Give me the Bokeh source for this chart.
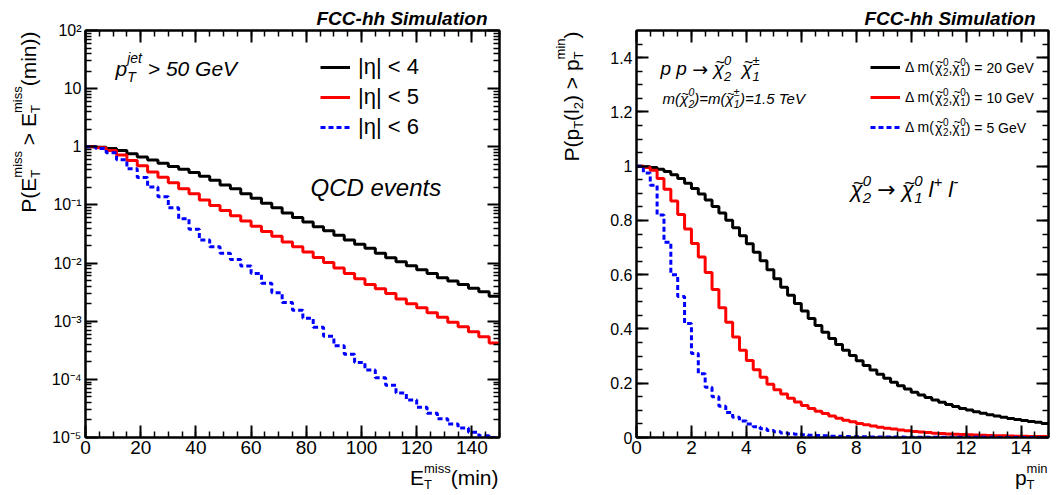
import math
import numpy as np
from bokeh.plotting import figure
from bokeh.layouts import row, column
from bokeh.models import (Label, FixedTicker, SingleIntervalTicker, CustomJSTickFormatter,
                          LinearAxis, LogAxis, Legend, LegendItem, Range1d)
from bokeh.embed import file_html
from bokeh.resources import INLINE

# ---------------- data: left panel (cumulative MET probability) ----------------
met_edges = list(np.linspace(0, 150, 41))
met_eta4 = [1.0, 0.98, 0.93, 0.86, 0.76, 0.67, 0.59, 0.52, 0.46, 0.41,
            0.36, 0.31, 0.265, 0.22, 0.19, 0.155, 0.13, 0.107, 0.089, 0.073,
            0.061, 0.051, 0.042, 0.036, 0.030, 0.025, 0.021, 0.018, 0.0148, 0.0123,
            0.0105, 0.0090, 0.0077, 0.0066, 0.0056, 0.0049, 0.0043, 0.0037, 0.0032, 0.0027]
met_eta5 = [1.0, 0.96, 0.86, 0.72, 0.58, 0.47, 0.37, 0.30, 0.24, 0.19,
            0.155, 0.122, 0.098, 0.080, 0.065, 0.053, 0.043, 0.035, 0.029, 0.023,
            0.019, 0.0155, 0.0125, 0.0102, 0.0082, 0.0066, 0.0054, 0.0043, 0.0036, 0.0030,
            0.0024, 0.0020, 0.0017, 0.0014, 0.00117, 0.00096, 0.0008, 0.00066, 0.00054, 0.00042]
met_eta6 = [1.0, 0.93, 0.79, 0.60, 0.42, 0.295, 0.204, 0.138, 0.089, 0.058,
            0.038, 0.025, 0.019, 0.0148, 0.0115, 0.0089, 0.0066, 0.0045, 0.0031, 0.0021,
            0.00155, 0.00112, 0.00079, 0.00055, 0.00038, 0.00027, 0.000195, 0.000145, 0.000107, 7.9e-5,
            5.8e-5, 4.4e-5, 3.3e-5, 2.6e-5, 2.1e-5, 1.7e-5, 1.45e-5, 1.23e-5, 1.07e-5, 1.0e-5]
met_labels = ["|η| < 4", "|η| < 5", "|η| < 6"]

# ---------------- data: right panel (cumulative pT of 2nd lepton) ----------------
pt_edges = list(np.linspace(0, 15, 61))
pt_dm20 = [1.000, 0.998, 0.995, 0.989, 0.980, 0.968, 0.955, 0.937, 0.918, 0.897,
           0.875, 0.851, 0.827, 0.801, 0.773, 0.744, 0.714, 0.683, 0.651, 0.618,
           0.585, 0.554, 0.524, 0.494, 0.466, 0.439, 0.413, 0.388, 0.365, 0.343,
           0.322, 0.302, 0.283, 0.265, 0.249, 0.233, 0.218, 0.204, 0.191, 0.179,
           0.167, 0.157, 0.147, 0.138, 0.130, 0.122, 0.114, 0.107, 0.101, 0.095,
           0.089, 0.084, 0.079, 0.075, 0.070, 0.066, 0.063, 0.059, 0.056, 0.052]
pt_dm10 = [1.000, 0.995, 0.985, 0.955, 0.915, 0.872, 0.822, 0.768, 0.715, 0.665,
           0.608, 0.545, 0.478, 0.425, 0.370, 0.322, 0.284, 0.250, 0.222, 0.196,
           0.176, 0.160, 0.145, 0.131, 0.118, 0.107, 0.097, 0.088, 0.079, 0.071,
           0.064, 0.058, 0.052, 0.047, 0.042, 0.038, 0.034, 0.031, 0.028, 0.025,
           0.022, 0.020, 0.018, 0.016, 0.015, 0.013, 0.012, 0.011, 0.010, 0.009,
           0.008, 0.007, 0.0065, 0.006, 0.0055, 0.005, 0.0045, 0.004, 0.0037, 0.0034]
pt_dm5 = [1.0, 0.975, 0.93, 0.82, 0.72, 0.60, 0.52, 0.42, 0.31, 0.235,
          0.185, 0.15, 0.115, 0.092, 0.075, 0.061, 0.05, 0.04, 0.032, 0.026,
          0.021, 0.017, 0.014, 0.012, 0.010, 0.0085, 0.0072, 0.006, 0.005, 0.0043,
          0.0037, 0.0032, 0.0028, 0.0025, 0.0022, 0.002, 0.0018, 0.0016, 0.0015, 0.0013,
          0.0012, 0.0011, 0.001, 0.0009, 0.00085, 0.0008, 0.00075, 0.0007, 0.00065, 0.0006,
          0.00055, 0.0005, 0.00045, 0.0004, 0.00038, 0.00035, 0.00032, 0.0003, 0.00028, 0.00025]
pt_dm_values = ["20", "10", "5"]   # GeV, legend

log_major = [1e-5, 1e-4, 1e-3, 1e-2, 1e-1, 1.0, 10.0, 100.0]
log_minor = [k * d for d in log_major[:-1] for k in range(2, 10)]

FONT = "Liberation Sans"
SYM = "DejaVu Sans"
COLORS = ["#000000", "#ff0000", "#0000ff"]
DASHES = ["solid", "solid", "5 3"]

# ---------------- rich-text helpers ----------------
WID = {' ': .278, '(': .333, ')': .333, '+': .584, ',': .278, '-': .333, '.': .278, '=': .584,
       '>': .584, '<': .584, 'C': .722, 'D': .722, 'E': .667, 'G': .778, 'P': .667, 'Q': .778,
       'T': .611, 'V': .667, 'e': .556, 'i': .222, 'j': .222, 'l': .222, 'm': .833, 'n': .556,
       'p': .556, 's': .5, 't': .278, 'v': .5, 'χ': .56, '→': .838, '±': .584, '~': .584,
       'Δ': .668, '|': .26, 'η': .556}
MID = 0.3465   # distance from text middle to alphabetic baseline, in em


def tw(s, size):
    return size * sum(WID.get(c, 0.556) for c in s)


# a part = (text, size, rise, advance, dx, font)
def t(s, size, font=FONT):
    return [(s, size, 0.0, tw(s, size), 0.0, font)]


def up(s, size, rise):
    return [(s, size, rise, tw(s, size), 0.0, FONT)]


def st(sup, sub, size, rise, drop):
    w = max(tw(sup, size), tw(sub, size))
    return [(sup, size, rise, 0.0, 0.0, FONT), (sub, size, -drop, w, 0.0, FONT)]


def chi(size):
    return [("~", 0.85 * size, 0.40 * size, 0.0, 0.10 * size, FONT),
            ("χ", size, 0.0, 0.56 * size, 0.0, FONT)]


def arrow(size):
    return [("→", size, 0.0, 0.838 * size, 0.0, SYM)]


def place(fig, ox, ob, parts, X, Y, vertical=False, style="normal", align="left",
          on_baseline=True):
    """ox, ob: canvas-global left/bottom of fig's frame; X, Y: global baseline (or middle) start."""
    total = sum(p[3] for p in parts)
    a = 0.0 if align == "left" else -total
    for (s, size, rise, adv, dx, font) in parts:
        body = s.lstrip(" ")
        if body.strip():
            shift = dx + tw(s[:len(s) - len(body)], size)   # leading blanks are not drawn
            lift = rise + (MID * size if on_baseline else 0.0)
            if vertical:
                cx, cy = X - lift, Y - a - shift
            else:
                cx, cy = X + a + shift, Y - lift
            fig.add_layout(Label(x=cx - ox, y=ob - cy, x_units="screen", y_units="screen",
                                 text=body.rstrip(" "), angle=math.pi / 2 if vertical else 0.0,
                                 text_font=font, text_font_size=f"{size:.1f}px",
                                 text_font_style=style, text_baseline="middle",
                                 text_align="left", text_color="black"))
        a += adv


FT = 30          # global y of frame top
FB = 437         # global y of frame bottom
BB = 25          # bottom border of main plots
BOT_TOP = FB + BB


def strip(w, h, top=0, bottom=0):
    f = figure(width=w, height=h, min_border=0, min_border_left=0, min_border_right=0,
               min_border_top=top, min_border_bottom=bottom,
               x_axis_location=None, y_axis_location=None,
               x_range=Range1d(0, 1), y_range=Range1d(0, 1),
               output_backend="svg", toolbar_location=None)
    f.outline_line_color = None
    f.xgrid.visible = False
    f.ygrid.visible = False
    return f


blank_fmt = CustomJSTickFormatter(code="return '';")


def style_axis(ax, labels=True, size="19px", standoff=4):
    ax.axis_line_width = 2
    ax.axis_line_color = "black"
    ax.major_tick_in = 12
    ax.major_tick_out = 0
    ax.minor_tick_in = 6
    ax.minor_tick_out = 0
    ax.major_tick_line_width = 2
    ax.minor_tick_line_width = 1.5
    ax.major_tick_line_color = "black"
    ax.minor_tick_line_color = "black"
    ax.major_label_text_font = FONT
    ax.major_label_text_color = "black"
    ax.major_label_text_font_size = size
    if labels:
        ax.major_label_standoff = standoff
    else:
        ax.formatter = blank_fmt
        ax.major_label_standoff = 0


log_fmt = CustomJSTickFormatter(code="""
const e = Math.round(Math.log10(tick));
if (e === 0) return "1";
if (e === 1) return "10";
const m = {"-":"\u207B","0":"\u2070","1":"\u00B9","2":"\u00B2","3":"\u00B3","4":"\u2074","5":"\u2075","6":"\u2076","7":"\u2077","8":"\u2078","9":"\u2079"};
return "10" + String(e).split("").map(c => m[c]).join("");
""")
lin_fmt = CustomJSTickFormatter(code="return String(Math.round(tick*100)/100);")


def make_main(frame_w, left_b, right_b, xr, yr, ylog, title_offset):
    kw = dict(frame_width=frame_w, frame_height=FB - FT, min_border_left=left_b,
              min_border_right=right_b, min_border_top=FT, min_border_bottom=BB,
              x_range=xr, y_range=yr, title="FCC-hh Simulation",
              output_backend="svg", toolbar_location=None)
    if ylog:
        kw["y_axis_type"] = "log"
    p = figure(**kw)
    p.title.align = "right"
    p.title.offset = title_offset
    p.title.standoff = 4
    p.title.text_font = FONT
    p.title.text_font_size = "19px"
    p.title.text_font_style = "bold italic"
    p.title.text_color = "black"
    p.xgrid.visible = False
    p.ygrid.visible = False
    p.outline_line_color = "black"
    p.outline_line_width = 2
    return p


# ======================= left half =======================
Y1_W = 45
p1 = make_main(414, 85 - Y1_W, 29, Range1d(0, 150), Range1d(1e-5, 100), True, 12)
xt1 = SingleIntervalTicker(interval=20, num_minor_ticks=4)
yt1 = FixedTicker(ticks=log_major, minor_ticks=log_minor)
p1.xaxis[0].ticker = xt1
p1.xaxis[0].formatter = lin_fmt
p1.yaxis[0].ticker = yt1
p1.yaxis[0].formatter = log_fmt
style_axis(p1.xaxis[0], True, "19px", 3)
style_axis(p1.yaxis[0], True, "16px", 4)
ax_top1 = LinearAxis(ticker=xt1)
ax_right1 = LogAxis(ticker=yt1)
style_axis(ax_top1, False, "1px")
style_axis(ax_right1, False, "1px")
p1.add_layout(ax_top1, "above")
p1.add_layout(ax_right1, "right")

rend1 = []
for vals, c, d in zip([met_eta4, met_eta5, met_eta6], COLORS, DASHES):
    r = p1.step(x=met_edges, y=vals + [vals[-1]], mode="after", line_color=c,
                line_width=3, line_dash=d)
    rend1.append(r)

leg1 = Legend(items=[LegendItem(label=lab, renderers=[r]) for lab, r in zip(met_labels, rend1)],
              location=(235, 295), glyph_width=30, glyph_height=30, label_height=30,
              label_standoff=8, spacing=0, padding=0, margin=0,
              border_line_alpha=0, background_fill_alpha=0,
              label_text_font=FONT, label_text_font_size="22px", label_text_color="black")
p1.add_layout(leg1)

place(p1, 85, FB, t("p", 21) + st("jet", "T", 14, 13, 6) + t(" > 50 GeV", 21), 115, 75,
      style="italic")
place(p1, 85, FB, t("QCD events", 24), 310, 195, style="italic")

Y1 = strip(Y1_W, BOT_TOP, top=FT, bottom=BB)
place(Y1, 0, FB, t("P(E", 21) + st("miss", "T", 13, 13, 5) + t(" > E", 21)
      + st("miss", "T", 13, 13, 5) + t("(min))", 21), 35, 31, vertical=True, align="right")
B1 = strip(528, 495 - BOT_TOP)
place(B1, 0, 495, t("E", 21) + st("miss", "T", 13, 11, 5) + t("(min)", 21), 498, 484,
      align="right")

left_half = column(row(Y1, p1), B1)

# ======================= right half =======================
R_X0 = 528
Y2_W = 70
OX2 = 636
p2 = make_main(412, 108 - Y2_W, 8, Range1d(0, 15), Range1d(0, 1.5), False, 13)
xt2 = SingleIntervalTicker(interval=2, num_minor_ticks=4)
yt2 = SingleIntervalTicker(interval=0.2, num_minor_ticks=4)
p2.xaxis[0].ticker = xt2
p2.xaxis[0].formatter = lin_fmt
p2.yaxis[0].ticker = yt2
p2.yaxis[0].formatter = lin_fmt
style_axis(p2.xaxis[0], True, "19px", 3)
style_axis(p2.yaxis[0], True, "16px", 4)
ax_top2 = LinearAxis(ticker=xt2)
ax_right2 = LinearAxis(ticker=yt2)
style_axis(ax_top2, False, "1px")
style_axis(ax_right2, False, "1px")
p2.add_layout(ax_top2, "above")
p2.add_layout(ax_right2, "right")

rend2 = []
for vals, c, d in zip([pt_dm20, pt_dm10, pt_dm5], COLORS, DASHES):
    r = p2.step(x=pt_edges, y=vals + [vals[-1]], mode="after", line_color=c,
                line_width=3, line_dash=d)
    rend2.append(r)

LEG_F = 14
leg2 = Legend(items=[LegendItem(label="Δ m(", renderers=[r]) for r in rend2],
              location=(234, 295), glyph_width=30, glyph_height=30, label_height=30,
              label_standoff=5, spacing=0, padding=0, margin=0,
              border_line_alpha=0, background_fill_alpha=0,
              label_text_font=FONT, label_text_font_size=f"{LEG_F}px",
              label_text_color="black", label_text_baseline="middle")
p2.add_layout(leg2)
for i, dm in enumerate(pt_dm_values):
    place(p2, OX2, FB, chi(LEG_F) + st("0", "2", 10, 6, 4) + t(",", LEG_F) + chi(LEG_F)
          + st("0", "1", 10, 6, 4) + t(f") = {dm} GeV", LEG_F),
          905 + tw("Δ m(", LEG_F), 67 + 30 * i, on_baseline=False)

place(p2, OX2, FB, t("p p ", 19) + arrow(19) + t(" ", 19) + chi(19) + st("0", "2", 13, 10, 6)
      + t(" ", 19) + t(" ", 19) + chi(19) + st("±", "1", 13, 10, 6), 660, 75, style="italic")
place(p2, OX2, FB, t("m(", 15) + chi(15) + st("0", "2", 10.5, 8, 4) + t(")=m(", 15)
      + chi(15) + st("±", "1", 10.5, 8, 4) + t(")=1.5 TeV", 15), 662, 103, style="italic")
place(p2, OX2, FB, chi(22) + st("0", "2", 15, 11, 6) + t(" ", 22) + arrow(22) + t(" ", 22)
      + chi(22) + st("0", "1", 15, 11, 6) + t(" l", 22) + up("+", 15, 10) + t(" l", 22)
      + up("-", 15, 10), 850, 197, style="italic")

Y2 = strip(Y2_W, BOT_TOP, top=FT, bottom=BB)
place(Y2, R_X0, FB, t("P(p", 21) + st("", "T", 13, 13, 5) + t("(l", 21)
      + st("", "2", 13, 13, 5) + t(") > p", 21) + st("min", "T", 13, 13, 5) + t(")", 21),
      578, 31, vertical=True, align="right")
B2 = strip(528, 495 - BOT_TOP)
place(B2, R_X0, 495, t("p", 21) + st("min", "T", 13, 11, 5), 1047, 484, align="right")

right_half = column(row(Y2, p2), B2)

layout = row(left_half, right_half)
open("out.html", "w").write(file_html(layout, INLINE))
